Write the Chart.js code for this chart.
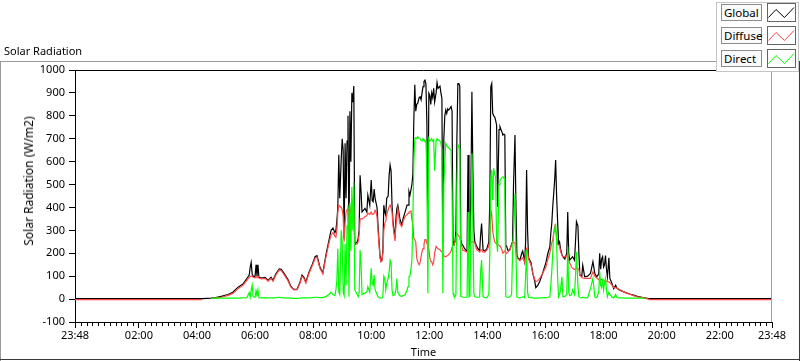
<!DOCTYPE html>
<html><head><meta charset="utf-8">
<script src="https://cdn.jsdelivr.net/npm/chart.js@4.4.1/dist/chart.umd.min.js"></script>
<style>
html,body{margin:0;padding:0;background:#fff;}
#wrap{position:relative;width:800px;height:361px;overflow:hidden;font-family:'Noto Sans',sans-serif;color:#000;}
#c{position:absolute;left:0;top:0;}
#cap{position:absolute;left:4px;top:44px;font-size:11px;line-height:13px;white-space:nowrap;}
#ytitle{position:absolute;left:29px;top:181px;transform:translate(-50%,-50%) rotate(-90deg);font-size:12px;line-height:14px;white-space:nowrap;}
#legend{position:absolute;left:716px;top:2px;width:81px;height:68px;background:#fff;border:1px solid #c4c4c4;}
.lt{position:absolute;left:4px;width:37px;height:15px;border:1px solid #8c8c8c;background:#fafafa;font-size:11.5px;line-height:15px;padding-left:2px;white-space:nowrap;}
.li{position:absolute;left:50px;width:27px;height:17px;border:1px solid #646464;background:#fff;}
.li svg{display:block;}
</style></head>
<body>
<div id="wrap">
<canvas id="c" width="800" height="361"></canvas>
<div id="cap">Solar Radiation</div>
<div id="ytitle"></div>
<div id="legend"></div>
</div>
<script>
// ---- data ----
const times = ["23:48","04:10","04:12","04:29","04:39","04:52","05:04","05:14","05:25","05:35",
"05:43","05:48","05:50","05:52","05:54","05:56","06:00","06:02","06:04","06:06",
"06:08","06:14","06:21","06:27","06:33","06:37","06:43","06:50","06:54","07:00",
"07:08","07:14","07:20","07:27","07:33","07:37","07:41","07:45","07:51","07:58",
"08:04","08:08","08:14","08:20","08:27","08:33","08:37","08:41","08:45","08:47",
"08:49","08:51","08:53","08:55","08:58","09:00","09:02","09:04","09:06","09:08",
"09:10","09:12","09:14","09:16","09:18","09:20","09:22","09:24","09:26","09:31",
"09:33","09:35","09:37","09:39","09:41","09:45","09:47","09:51","09:53","09:57",
"10:00","10:02","10:04","10:06","10:08","10:10","10:12","10:14","10:18","10:20",
"10:22","10:24","10:26","10:28","10:30","10:32","10:35","10:37","10:39","10:41",
"10:43","10:45","10:49","10:51","10:53","10:55","10:59","11:03","11:06","11:10",
"11:14","11:16","11:18","11:20","11:22","11:24","11:26","11:28","11:30","11:32",
"11:34","11:36","11:39","11:41","11:43","11:45","11:47","11:49","11:51","11:53",
"11:55","11:57","11:59","12:01","12:03","12:05","12:07","12:09","12:11","12:14",
"12:16","12:18","12:22","12:24","12:26","12:28","12:30","12:32","12:34","12:36",
"12:38","12:40","12:42","12:45","12:47","12:49","12:51","12:53","12:55","12:57",
"12:59","13:01","13:03","13:05","13:07","13:09","13:13","13:18","13:20","13:22",
"13:24","13:26","13:28","13:30","13:32","13:34","13:38","13:42","13:44","13:46",
"13:48","13:51","13:55","13:59","14:03","14:05","14:07","14:09","14:11","14:13",
"14:15","14:17","14:19","14:21","14:24","14:26","14:28","14:30","14:32","14:34",
"14:36","14:38","14:40","14:42","14:46","14:50","14:52","14:54","14:57","14:59",
"15:01","15:03","15:07","15:11","15:13","15:17","15:19","15:21","15:23","15:25",
"15:30","15:34","15:38","15:40","15:44","15:48","15:54","16:01","16:05","16:09",
"16:11","16:13","16:15","16:17","16:19","16:21","16:23","16:25","16:27","16:29",
"16:31","16:34","16:36","16:40","16:44","16:46","16:48","16:50","16:54","16:56",
"17:00","17:02","17:04","17:07","17:09","17:11","17:15","17:17","17:21","17:27",
"17:33","17:38","17:42","17:46","17:50","17:52","17:54","17:56","17:58","18:00",
"18:02","18:04","18:06","18:08","18:11","18:13","18:17","18:21","18:25","18:27",
"18:31","18:37","18:46","18:54","19:02","19:10","19:19","19:25","19:31","19:35",
"23:48"];

const globalWm2 = [2,2,2,4,7,13,20,30,52,66,
90,105,140,160,110,100,98,150,100,150,
95,92,95,82,95,82,110,132,130,112,
85,55,42,44,75,105,95,75,115,150,
185,190,140,115,200,260,300,310,290,300,
340,400,630,440,610,700,650,265,680,440,
690,800,250,820,600,900,860,930,240,250,
265,300,540,470,380,390,396,380,454,410,
520,430,425,480,440,420,400,323,192,165,
170,207,410,380,367,440,450,541,585,560,
410,338,265,350,396,410,352,323,352,381,
410,410,470,454,476,500,541,781,935,820,
850,854,880,883,870,900,927,950,956,940,
768,228,899,890,850,900,880,920,860,900,
945,920,930,900,876,236,700,800,825,810,
830,825,830,840,820,236,250,250,300,700,
941,941,930,258,240,236,220,207,629,230,
240,500,905,563,300,250,230,215,210,280,
330,215,210,220,250,430,927,941,811,800,
796,780,760,403,740,752,740,730,716,720,
716,236,230,214,214,240,250,500,716,400,
190,180,170,200,210,165,250,563,300,180,
160,110,76,50,60,76,112,160,200,228,
287,330,403,461,520,607,450,345,243,250,
220,195,185,175,200,380,200,170,180,185,
170,250,338,320,200,105,100,148,97,100,
112,163,112,97,110,200,130,175,185,140,
150,190,130,97,180,90,70,45,61,50,
42,36,28,22,17,12,8,5,3,2,
2];

const diffuseWm2 = [-2,-2,null,2,4,9,16,25,46,60,
82,95,98,100,100,95,93,100,95,98,
92,88,90,78,90,78,105,127,125,107,
80,52,40,41,70,100,90,70,110,145,
178,183,135,110,190,248,280,290,275,270,
300,380,410,405,400,390,360,250,330,380,
390,400,230,400,380,390,395,400,240,240,
250,280,350,350,350,355,360,365,375,370,
380,370,370,375,388,380,360,300,180,163,
165,200,300,330,338,370,390,403,410,400,
380,320,254,320,360,395,330,317,340,360,
370,374,380,381,385,350,323,265,258,250,
180,163,150,160,185,207,220,240,260,260,
245,236,220,180,165,163,150,160,200,230,
225,220,215,210,207,200,190,185,185,188,
190,195,200,210,225,236,240,250,270,287,
280,275,270,250,230,214,210,205,220,225,
235,245,250,250,250,245,215,210,205,215,
215,205,205,215,230,258,389,370,300,270,
250,245,240,238,235,230,225,215,200,205,
210,205,200,205,214,235,250,248,245,200,
185,175,170,175,180,160,200,221,215,175,
150,112,85,76,80,90,112,141,175,200,
225,245,258,290,316,300,270,240,236,230,
210,190,185,185,185,200,170,156,140,134,
130,130,135,132,130,105,95,92,90,90,
90,119,100,92,85,83,85,85,85,83,
80,80,78,76,75,72,62,50,50,48,
44,36,27,21,15,10,7,4,1,-2,
-2];

const directWm2 = [null,null,null,3,4,4,4,4,4,5,
6,28,8,40,61,10,8,36,12,40,
6,5,5,5,5,5,6,8,6,5,
4,4,3,3,4,5,5,5,5,6,
8,8,6,6,12,20,30,20,15,40,
80,220,30,20,300,250,30,15,240,60,
320,410,10,420,210,490,300,510,40,20,
10,25,214,150,20,25,25,32,54,30,
134,70,60,105,40,30,20,10,5,4,
5,10,100,90,40,70,90,120,170,160,
40,15,20,40,90,30,15,12,15,20,
40,54,97,100,130,170,345,600,700,705,
700,709,700,700,694,690,700,695,687,690,
563,25,700,690,694,700,690,695,560,690,
700,695,690,680,651,25,500,600,680,670,
665,660,655,651,461,25,12,10,20,500,
665,672,650,12,10,8,8,8,380,10,
12,300,636,316,25,10,8,8,10,120,
170,10,6,6,20,200,527,563,432,571,
545,534,250,207,500,520,525,530,534,530,
520,12,8,8,8,20,200,300,461,200,
10,8,5,8,10,6,100,214,30,8,
6,5,4,4,4,5,5,6,8,10,
60,120,200,287,300,330,250,100,10,20,
40,97,10,12,20,228,30,15,20,40,
20,100,207,60,10,8,5,8,5,5,
47,90,10,6,30,119,60,50,90,40,
70,90,40,10,30,20,10,5,20,8,
5,5,4,4,4,4,4,3,null,null,
null];

const seriesNames = ["Global", "Diffuse", "Direct"];
const seriesColors = ["#000000", "#ff4646", "#00ff00"];
const tickLabels = ["23:48","02:00","04:00","06:00","08:00","10:00","12:00","14:00","16:00","18:00","20:00","22:00","23:48"];
const yTitle = "Solar Radiation (W/m2)";
const xTitle = "Time";

// ---- helpers ----
function toMin(s, i) {            // first entry belongs to the previous day
  const [h, m] = s.split(':').map(Number);
  const v = h * 60 + m;
  return i === 0 ? v - 1440 : v;
}
const tMin = times.map(toMin);
const tickVals = tickLabels.map((s, i) => (i === tickLabels.length - 1 ? 1440 - 12 : toMin(s, i)));
const xMin = tickVals[0], xMax = tickVals[tickVals.length - 1];

const FONT = "'Noto Sans', sans-serif";
const mk = arr => tMin.map((t, i) => ({ x: t, y: arr[i] }));

document.getElementById('ytitle').textContent = yTitle;

// legend (LabVIEW style plot legend)
const leg = document.getElementById('legend');
seriesNames.forEach((n, i) => {
  const t = document.createElement('div');
  t.className = 'lt'; t.style.top = (1 + i * 23) + 'px'; t.textContent = n;
  const ic = document.createElement('div');
  ic.className = 'li'; ic.style.top = (0 + i * 23) + 'px';
  ic.innerHTML = '<svg width="27" height="17"><polyline points="0.5,13.5 8,5.5 16.5,13.5 26,3.5" fill="none" stroke="' + seriesColors[i] + '" stroke-width="1"/></svg>';
  leg.appendChild(t); leg.appendChild(ic);
});

const framePlugin = {
  id: 'frame',
  beforeDraw(chart) {
    const c = chart.ctx;
    c.save();
    c.fillStyle = '#fff'; c.fillRect(0, 0, chart.width, chart.height);
    c.lineWidth = 1;
    c.strokeStyle = '#9a9a9a';
    c.beginPath(); c.moveTo(0, 61.5); c.lineTo(800, 61.5); c.moveTo(0.5, 61); c.lineTo(0.5, 361); c.stroke();
    c.strokeStyle = '#3a3a3a';
    c.beginPath(); c.moveTo(0, 359.5); c.lineTo(800, 359.5); c.moveTo(799.5, 61); c.lineTo(799.5, 361); c.stroke();
    c.restore();
  },
  afterDraw(chart) {
    const c = chart.ctx, a = chart.chartArea, x = chart.scales.x;
    c.save(); c.lineWidth = 1;
    c.strokeStyle = '#000';
    c.beginPath(); c.moveTo(a.left, a.top + 0.5); c.lineTo(a.right, a.top + 0.5); c.stroke();
    c.strokeStyle = '#a0a0a0';
    c.beginPath(); c.moveTo(a.right - 0.5, a.top); c.lineTo(a.right - 0.5, a.bottom); c.stroke();
    // minor ticks every 12 minutes
    c.strokeStyle = '#000';
    c.beginPath();
    for (let v = 0; v < xMax; v += 12) {
      if (tickVals.includes(v)) continue;
      const px = Math.round(x.getPixelForValue(v)) + 0.5;
      c.moveTo(px, a.bottom); c.lineTo(px, a.bottom + 4);
    }
    c.stroke(); c.restore();
  }
};

new Chart(document.getElementById('c'), {
  type: 'line',
  data: {
    datasets: [
      { label: seriesNames[0], data: mk(globalWm2), borderColor: seriesColors[0], order: 3 },
      { label: seriesNames[1], data: mk(diffuseWm2), borderColor: seriesColors[1], order: 2 },
      { label: seriesNames[2], data: mk(directWm2), borderColor: seriesColors[2], order: 1 }
    ]
  },
  options: {
    responsive: false, animation: false, devicePixelRatio: 1,
    parsing: false, normalized: true, spanGaps: false,
    elements: { point: { radius: 0, hoverRadius: 0 }, line: { borderWidth: 1.2, tension: 0, fill: false } },
    plugins: { legend: { display: false }, tooltip: { enabled: false } },
    layout: { padding: { left: 0, top: 70, right: 28, bottom: 0 } },
    scales: {
      x: {
        type: 'linear', min: xMin, max: xMax,
        afterBuildTicks: s => { s.ticks = tickVals.map(v => ({ value: v })); },
        afterFit: s => { s.height = 39; s.paddingLeft = 0; s.paddingRight = 0; },
        ticks: { autoSkip: false, maxRotation: 0, padding: 1, color: '#000',
                 font: { family: FONT, size: 11 }, callback: (v, i) => tickLabels[i] },
        grid: { drawOnChartArea: false, tickLength: 6, color: '#000' },
        border: { color: '#000', width: 1 },
        title: { display: true, text: xTitle, color: '#000', font: { family: FONT, size: 11 }, padding: { top: 0, bottom: 2 } }
      },
      y: {
        min: -100, max: 1000,
        afterFit: s => { s.width = 75; s.paddingTop = 0; s.paddingBottom = 0; },
        ticks: { stepSize: 100, padding: 4, color: '#000', font: { family: FONT, size: 11 },
                 callback: v => String(v) },
        grid: { drawOnChartArea: false, tickLength: 6, color: '#000' },
        border: { color: '#000', width: 1 },
        title: { display: false }
      }
    }
  },
  plugins: [framePlugin]
});
</script>
</body></html>
